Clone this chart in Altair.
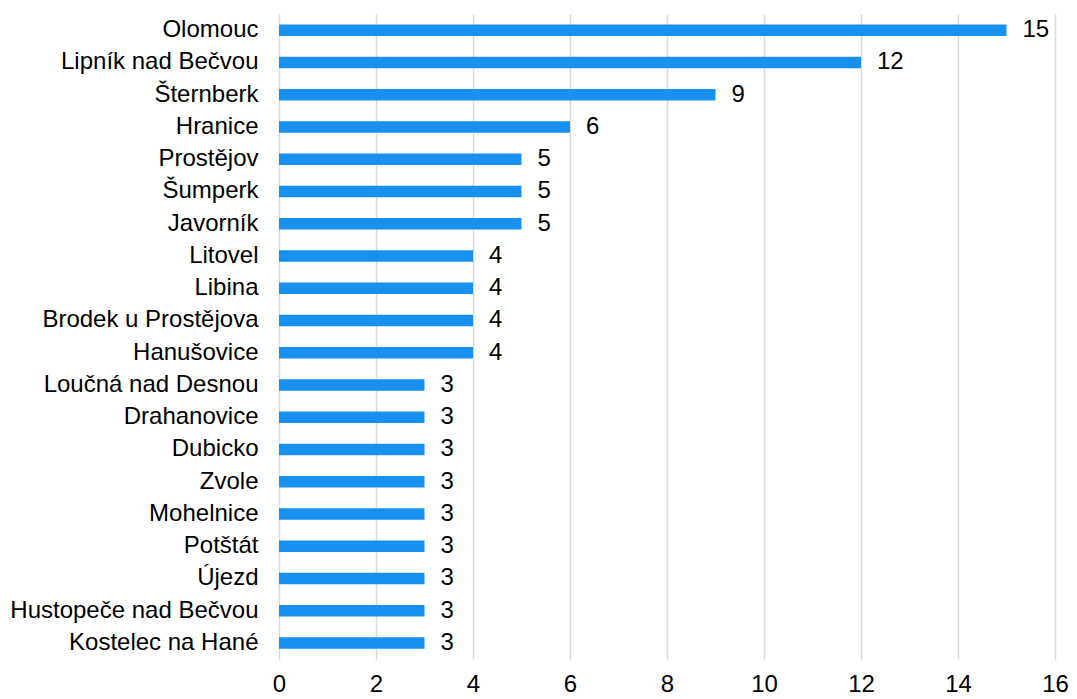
import altair as alt
import pandas as pd

towns = ["Olomouc", "Lipník nad Bečvou", "Šternberk", "Hranice", "Prostějov", "Šumperk",
         "Javorník", "Litovel", "Libina", "Brodek u Prostějova", "Hanušovice",
         "Loučná nad Desnou", "Drahanovice", "Dubicko", "Zvole", "Mohelnice", "Potštát",
         "Újezd", "Hustopeče nad Bečvou", "Kostelec na Hané"]
counts = [15, 12, 9, 6, 5, 5, 5, 4, 4, 4, 4, 3, 3, 3, 3, 3, 3, 3, 3, 3]
x_ticks = [0, 2, 4, 6, 8, 10, 12, 14, 16]

df = pd.DataFrame({"town": towns, "count": counts})

FONT = "Liberation Sans"
BLUE = "#1890F0"

x = alt.X("count:Q",
          scale=alt.Scale(domain=[0, 16], nice=False),
          axis=alt.Axis(values=x_ticks, title=None, domain=False, ticks=False,
                        grid=True, gridColor="#d9d9d9", gridWidth=1.5,
                        labelFont=FONT, labelFontSize=24, labelColor="#000000",
                        labelPadding=13, labelFlush=False))
y = alt.Y("town:N", sort=towns,
          scale=alt.Scale(paddingInner=0, paddingOuter=0),
          axis=alt.Axis(title=None, domain=False, ticks=False, grid=False,
                        labelFont=FONT, labelFontSize=24, labelColor="#000000",
                        labelPadding=21, labelLimit=0))

bars = alt.Chart(df).mark_bar(color=BLUE, size=11.5).encode(x=x, y=y)
labels = alt.Chart(df).mark_text(align="left", baseline="middle", dx=16,
                                 font=FONT, fontSize=24, color="#000000").encode(
    x=alt.X("count:Q"), y=alt.Y("town:N", sort=towns), text="count:Q")

chart = (bars + labels).properties(
    width=776, height=645,
    autosize=alt.AutoSizeParams(type="none"),
    padding={"left": 271, "top": 6, "right": 14, "bottom": 39},
).configure_view(stroke=None)

chart.save("out.html", embed_options={"renderer": "svg", "actions": False})
